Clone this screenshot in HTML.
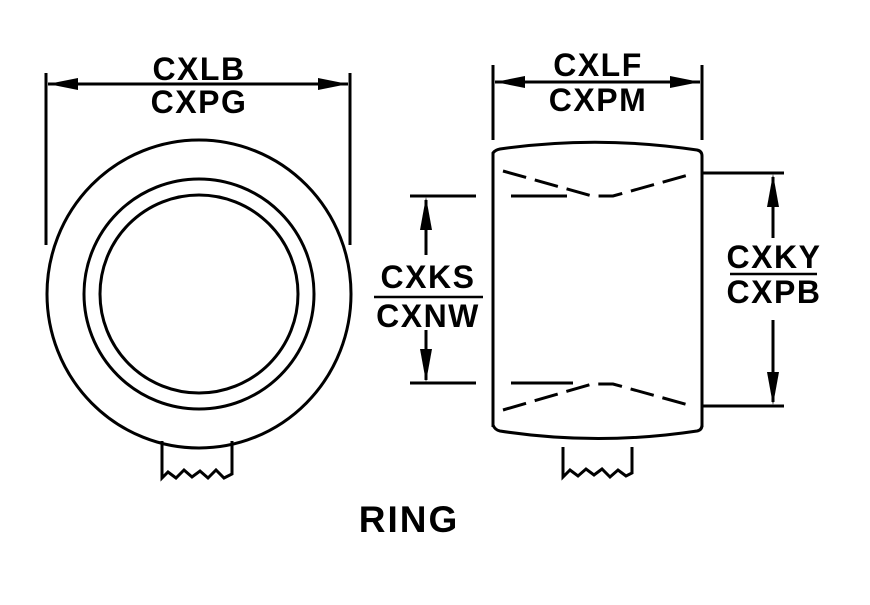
<!DOCTYPE html>
<html><head><style>
body{margin:0;background:#fff}
svg text{font-family:"Liberation Sans",sans-serif;font-weight:bold;font-size:32px;fill:#000;letter-spacing:1.5px}
</style></head><body>
<svg width="870" height="600" viewBox="0 0 870 600" xmlns="http://www.w3.org/2000/svg">
<g stroke="#000" stroke-width="3" fill="none">
<ellipse cx="199" cy="294" rx="152" ry="154"/>
<circle cx="199" cy="294" r="115"/>
<circle cx="199" cy="294" r="99"/>
<path d="M162 441 V478 L168 472 L176 478 L184 470 L192 477 L200 471 L208 478 L216 470 L224 478 L232 474 V441"/>
<line x1="46" y1="73" x2="46" y2="245"/>
<line x1="350" y1="73" x2="350" y2="245"/>
<line x1="48" y1="84" x2="348" y2="84"/>
<path d="M493 427 V153 Q495 150 500 149 Q598 135 697 150 Q702 151 702 156 V427"/>
<path d="M493 425 Q495 430 500 431 Q598 446 697 431 Q702 430 702 425"/>
<path d="M503 171 L592 196 L613 196 L692 174" stroke-dasharray="24,9"/>
<path d="M503 410 L592 384 L613 384 L692 406" stroke-dasharray="24,9"/>
<line x1="511" y1="196" x2="567" y2="196"/>
<line x1="511" y1="383" x2="573" y2="383"/>
<path d="M563 447 V477 L570 470 L578 476 L586 469 L594 475 L602 469 L610 477 L618 470 L626 476 L632 473 V447"/>
<line x1="493" y1="65" x2="493" y2="140"/>
<line x1="702" y1="65" x2="702" y2="140"/>
<line x1="495" y1="82" x2="700" y2="82"/>
<line x1="410" y1="196" x2="476" y2="196"/>
<line x1="410" y1="383" x2="476" y2="383"/>
<line x1="426" y1="200" x2="426" y2="255"/>
<line x1="426" y1="330" x2="426" y2="380"/>
<line x1="374" y1="297" x2="483" y2="297" stroke-width="2.5"/>
<line x1="703" y1="173" x2="784" y2="173"/>
<line x1="703" y1="406" x2="784" y2="406"/>
<line x1="773" y1="177" x2="773" y2="238"/>
<line x1="773" y1="320" x2="773" y2="402"/>
<line x1="730" y1="274" x2="817" y2="274" stroke-width="2.5"/>
</g>
<g fill="#000">
<polygon points="48,84 78,78 78,90"/><polygon points="348,84 318,78 318,90"/>
<polygon points="495,82 525,76 525,88"/><polygon points="700,82 670,76 670,88"/>
<polygon points="426,197 420,230 432,230"/><polygon points="426,382 420,349 432,349"/>
<polygon points="773,174 767,207 779,207"/><polygon points="773,405 767,372 779,372"/>
</g>
<text x="199" y="80" text-anchor="middle">CXLB</text>
<text x="199" y="113" text-anchor="middle">CXPG</text>
<text x="598" y="76" text-anchor="middle">CXLF</text>
<text x="598" y="111" text-anchor="middle">CXPM</text>
<text x="428" y="288" text-anchor="middle">CXKS</text>
<text x="428" y="327" text-anchor="middle">CXNW</text>
<text x="774" y="268" text-anchor="middle">CXKY</text>
<text x="774" y="303" text-anchor="middle">CXPB</text>
<text x="409" y="532" text-anchor="middle" style="font-size:37px;letter-spacing:2px">RING</text>
</svg>
</body></html>
